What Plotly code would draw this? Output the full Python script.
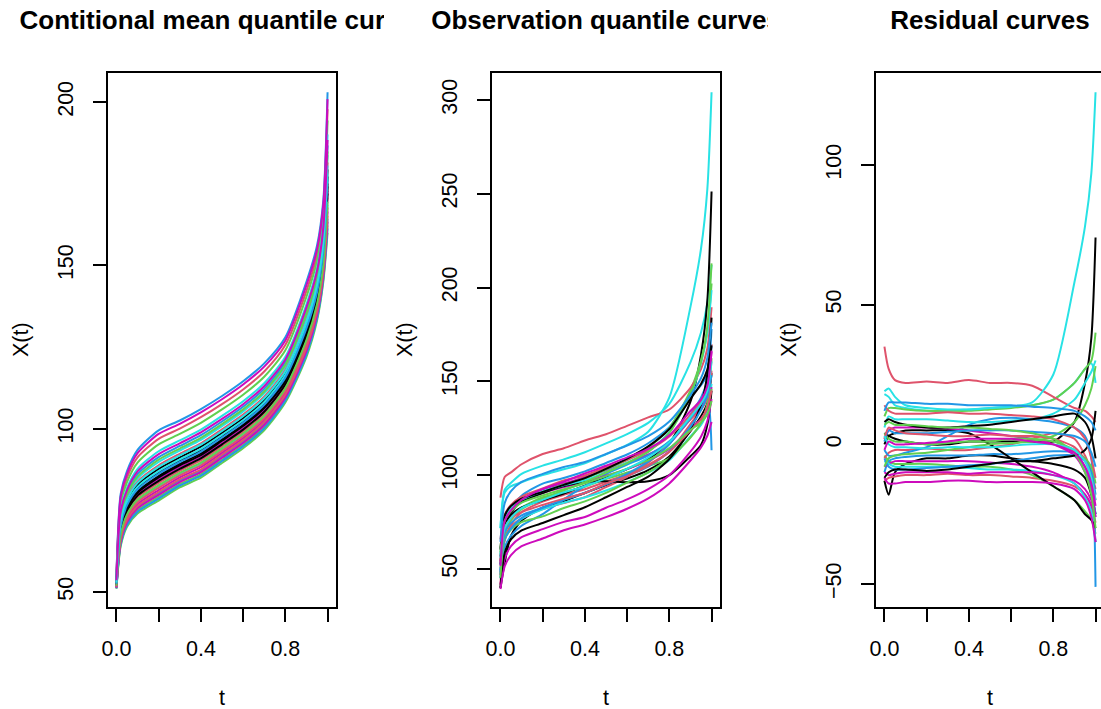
import plotly.graph_objects as go

# ---------------- data ----------------
t = [0, 0.02, 0.05, 0.1, 0.2, 0.3, 0.4, 0.5, 0.6, 0.7, 0.8, 0.9, 0.95, 0.98, 1.0]

# conditional mean quantile curves
m00 = [52.8, 71.2, 77.7, 82.8, 87.7, 91.2, 94.5, 98.7, 103.2, 108.7, 117.0, 132.4, 143.4, 156.3, 179.4]
m01 = [54.5, 78.1, 85.0, 91.2, 96.9, 100.0, 103.5, 107.5, 112.0, 117.5, 125.6, 142.2, 153.2, 167.0, 197.8]
m02 = [54.2, 76.8, 83.6, 89.6, 95.2, 98.4, 101.8, 105.9, 110.4, 115.9, 124.0, 140.4, 151.4, 165.0, 194.4]
m03 = [55.0, 80.0, 87.0, 93.5, 99.5, 102.5, 106.0, 110.0, 114.5, 120.0, 128.0, 145.0, 156.0, 170.0, 203.0]
m04 = [53.8, 75.2, 81.9, 87.7, 93.1, 96.4, 99.7, 103.9, 108.4, 113.9, 122.0, 138.1, 149.1, 162.5, 190.1]
m05 = [54.8, 79.2, 86.2, 92.5, 98.4, 101.5, 105.0, 109.0, 113.5, 119.0, 127.0, 143.9, 154.9, 168.8, 200.9]
m06 = [52.6, 70.4, 76.8, 81.8, 86.6, 90.2, 93.4, 97.7, 102.2, 107.7, 116.0, 131.2, 142.2, 155.0, 177.2]
m07 = [52.0, 68.0, 74.3, 78.9, 83.4, 87.1, 90.3, 94.6, 99.1, 104.6, 113.0, 127.8, 138.8, 151.3, 170.8]
m08 = [51.2, 64.8, 70.9, 75.0, 79.1, 83.0, 86.1, 90.5, 95.0, 100.5, 109.0, 123.2, 134.2, 146.3, 162.2]
m09 = [51.4, 65.6, 71.7, 76.0, 80.2, 84.1, 87.1, 91.6, 96.1, 101.6, 110.0, 124.3, 135.3, 147.5, 164.3]
m10 = [53.2, 72.8, 79.4, 84.7, 89.8, 93.3, 96.6, 100.8, 105.3, 110.8, 119.0, 134.7, 145.7, 158.8, 183.7]
m11 = [52.2, 68.8, 75.1, 79.9, 84.5, 88.2, 91.3, 95.7, 100.2, 105.7, 114.0, 128.9, 139.9, 152.5, 172.9]
m12 = [52.4, 69.6, 76.0, 80.8, 85.5, 89.2, 92.4, 96.7, 101.2, 106.7, 115.0, 130.1, 141.1, 153.8, 175.1]
m13 = [53.0, 72.0, 78.5, 83.8, 88.8, 92.3, 95.5, 99.8, 104.3, 109.8, 118.0, 133.5, 144.5, 157.5, 181.5]
m14 = [51.0, 64.0, 70.0, 74.0, 78.0, 82.0, 85.0, 89.5, 94.0, 99.5, 108.0, 122.0, 133.0, 145.0, 160.0]
m15 = [53.5, 73.9, 80.5, 86.1, 91.3, 94.7, 98.0, 102.2, 106.7, 112.2, 120.4, 136.3, 147.3, 160.5, 186.7]
m16 = [51.8, 67.2, 73.4, 77.9, 82.3, 86.1, 89.2, 93.6, 98.1, 103.6, 112.0, 126.6, 137.6, 150.0, 168.6]
m17 = [51.6, 66.4, 72.6, 76.9, 81.2, 85.1, 88.2, 92.6, 97.1, 102.6, 111.0, 125.5, 136.5, 148.8, 166.5]
m18 = [52.1, 68.5, 74.8, 79.5, 84.0, 87.7, 90.9, 95.2, 99.7, 105.2, 113.6, 128.4, 139.4, 152.0, 172.0]
m19 = [51.7, 66.9, 73.1, 77.5, 81.9, 85.7, 88.8, 93.2, 97.7, 103.2, 111.6, 126.1, 137.1, 149.5, 167.7]
m20 = [53.3, 73.3, 79.9, 85.3, 90.5, 93.9, 97.2, 101.4, 105.9, 111.4, 119.6, 135.3, 146.3, 159.5, 184.9]
m21 = [51.1, 64.5, 70.5, 74.6, 78.6, 82.6, 85.6, 90.1, 94.6, 100.1, 108.6, 122.7, 133.7, 145.8, 161.3]
m22 = [52.7, 70.7, 77.1, 82.2, 87.0, 90.6, 93.8, 98.1, 102.6, 108.1, 116.4, 131.7, 142.7, 155.5, 178.1]
m23 = [51.3, 65.3, 71.4, 75.6, 79.7, 83.6, 86.7, 91.1, 95.6, 101.1, 109.6, 123.8, 134.8, 147.0, 163.4]
m24 = [52.3, 69.3, 75.6, 80.4, 85.1, 88.8, 91.9, 96.3, 100.8, 106.3, 114.6, 129.6, 140.6, 153.3, 174.2]
m25 = [51.5, 65.9, 72.0, 76.3, 80.6, 84.5, 87.5, 92.0, 96.5, 102.0, 110.4, 124.8, 135.8, 148.0, 165.2]
m26 = [51.9, 67.5, 73.7, 78.3, 82.7, 86.5, 89.6, 94.0, 98.5, 104.0, 112.4, 127.1, 138.1, 150.5, 169.5]
m27 = [52.5, 70.1, 76.5, 81.4, 86.2, 89.8, 93.0, 97.3, 101.8, 107.3, 115.6, 130.7, 141.7, 154.5, 176.3]
m28 = [52.9, 71.7, 78.2, 83.4, 88.3, 91.8, 95.1, 99.3, 103.8, 109.3, 117.6, 133.0, 144.0, 157.0, 180.6]
m29 = [53.6, 74.6, 81.2, 86.9, 92.2, 95.5, 98.9, 103.0, 107.5, 113.0, 121.2, 137.2, 148.2, 161.5, 188.4]

# residual curves
r00 = [-13, -18, -10, -7, -5, -5, -4, -4, -5, -6, -7, -9, -12, -18, -25]
r01 = [-13, -12, -11.5, -11, -11, -10.5, -11, -11, -11.5, -12, -13, -15, -18, -22, -28]
r02 = [-4, -6, -7, -7, -7, -7.5, -8, -8, -9, -11, -15, -20, -24, -27, -32]
r03 = [-10, -6, -5, -4.5, -4, -4, -4, -3.5, -3.5, -3, -2.5, -3, -8, -16, -25]
r04 = [18, 17, 14, 13, 12, 12, 12.5, 13, 13.5, 14, 16, 22, 27, 29, 22]
r05 = [-8, -7, -6, -6, -6, -6, -6, -6.5, -7, -8, -10, -14, -18, -22, -35]
r06 = [4, 3, 2, 1, 0, 0, 1, 1, 1, 1, 1, 8, 22, 38, 74]
r07 = [-5, -3, -2, -2, -1.5, -2, -2, -1, 0, 2, 4, 2, -4, -10, -16]
r08 = [10, 13, 13, 12.5, 12, 12, 12, 12.5, 13, 14, 16, 22, 27, 30, 40]
r09 = [-2, -4, -4, -3, -1, 3, 7, 9, 9.5, 9, 8, 6, 3, -5, -51]
r10 = [-6, -7, -8, -8, -8, -8, -8.5, -9, -9, -9.5, -11, -14, -19, -24, -35]
r11 = [2, 5, 6, 6, 6, 5.5, 5, 4, 3, 2, 0, -4, -10, -17, -26]
r12 = [0, 3, 4, 5, 5, 5, 4, 0, -5, -10, -15, -20, -25, -27, -30]
r13 = [35, 27, 23, 22, 22.5, 22, 23, 22, 22, 21, 17, 13, 12, 10, 8]
r14 = [4, 2, 1, 1, 0, 0.5, 1, 1, 2, 2, 1, -2, -5, -8, -14]
r15 = [-5, -8, -9, -9, -8.5, -8, -7.5, -7, -6, -5, -4, -4, -6, -10, -18]
r16 = [6, 10, 9, 9, 9, 8.5, 8, 8, 8.5, 9, 11, 16, 22, 26, 30]
r17 = [-10, -11, -10.5, -10, -10, -10, -10.5, -10, -10, -10, -11, -13, -16, -20, -26]
r18 = [-12, -10, -9, -9, -9.5, -9, -8, -7, -6, -6, -5, -4, -2, 2, 12]
r19 = [14, 12, 11, 11, 11, 11.5, 11, 11, 10.5, 10, 9, 6, 2, -5, -12]
r20 = [-8, -5, -4, -3.5, -3, -2, -1, 0, 0.5, 1, 3, 8, 14, 20, 28]
r21 = [1, 5, 4, 4, 4, 4.5, 5, 5, 5, 4.5, 4, 3, 1, -3, -8]
r22 = [19, 20, 17, 14, 13, 12.5, 12.5, 13, 13.5, 15, 25, 58, 78, 97, 126]
r23 = [-12, -14, -14, -13.5, -13.5, -13, -13, -13.5, -13.5, -13.5, -14, -16, -20, -26, -35]
r24 = [8, 9, 8, 7, 6, 6, 6.5, 7, 8, 9, 10, 11, 8, 3, -5]
r25 = [2, 6, 5, 4, 3.5, 3, 3, 3.5, 3, 3, 2, -1, -6, -12, -20]
r26 = [7, 8, 7, 7, 6.5, 6, 6, 5.5, 5, 4, 2, -3, -10, -18, -30]
r27 = [12, 15, 15, 15, 14.5, 14.5, 14, 14, 14, 13.5, 13, 12, 10, 8, 5]
r28 = [3, 0, -1, -1, -1.5, -1, -1, -1, -0.5, 0, 0, -2, -6, -12, -20]
r29 = [-2, 1, 0, 0, 0.5, 1, 2, 2, 2, 1, 0, -3, -8, -14, -22]

mean_curves = [m00, m01, m02, m03, m04, m05, m06, m07, m08, m09, m10, m11, m12, m13, m14,
               m15, m16, m17, m18, m19, m20, m21, m22, m23, m24, m25, m26, m27, m28, m29]
resid_curves = [r00, r01, r02, r03, r04, r05, r06, r07, r08, r09, r10, r11, r12, r13, r14,
                r15, r16, r17, r18, r19, r20, r21, r22, r23, r24, r25, r26, r27, r28, r29]
# observation = conditional mean + residual
obs_curves = [[a + b for a, b in zip(mc, rc)] for mc, rc in zip(mean_curves, resid_curves)]

palette = ["#000000", "#DF536B", "#61D04F", "#2297E6", "#28E2E5", "#CD0BBC"]

titles = ["Contitional mean quantile curves", "Observation quantile curves", "Residual curves"]
x_tickvals = [0, 0.2, 0.4, 0.6, 0.8, 1.0]
x_ticktext = ["0.0", "", "0.4", "", "0.8", ""]
y_tickvals = [[50, 100, 150, 200], [50, 100, 150, 200, 250, 300], [-50, 0, 50, 100]]
y_ranges = [[45.4, 208.9], [29.7, 314.4], [-58.2, 132.9]]

# ---------------- figure ----------------
W, H = 1101, 709
FONT = "Liberation Sans, Arial, Helvetica, sans-serif"
FS = 21.5
fig = go.Figure()

panels = [mean_curves, obs_curves, resid_curves]
for p, curves in enumerate(panels):
    xa = "x" if p == 0 else f"x{p+1}"
    ya = "y" if p == 0 else f"y{p+1}"
    for i, c in enumerate(curves):
        fig.add_trace(go.Scatter(x=t, y=c, mode="lines", xaxis=xa, yaxis=ya,
                                 line=dict(color=palette[i % 6], width=2, shape="spline", smoothing=0.7),
                                 showlegend=False, hoverinfo="skip"))

box_left = [108, 492, 876]
box_right = [336, 720, 1101]
ytop, ybot = 73, 607
xr = [[-0.04, 1.04], [-0.04, 1.04], [-0.04, 1.0258]]

layout = dict(width=W, height=H, margin=dict(l=0, r=0, t=0, b=0, autoexpand=False),
              paper_bgcolor="white", plot_bgcolor="white", showlegend=False,
              font=dict(family=FONT, size=FS, color="black"))

for p in range(3):
    sx = "" if p == 0 else str(p + 1)
    layout["xaxis" + sx] = dict(domain=[box_left[p] / W, box_right[p] / W], range=xr[p],
                                anchor="y" + sx, tickvals=x_tickvals, ticktext=x_ticktext,
                                ticks="outside", ticklen=13, tickwidth=1.5, tickcolor="black",
                                showline=True, linewidth=1.5, linecolor="black", mirror=True,
                                showgrid=False, zeroline=False, ticklabelstandoff=8,
                                automargin=False,
                                tickfont=dict(family=FONT, size=FS, color="black"))
    layout["yaxis" + sx] = dict(domain=[(H - ybot) / H, (H - ytop) / H], range=y_ranges[p],
                                anchor="x" + sx, tickvals=y_tickvals[p], tickangle=-90,
                                ticks="outside", ticklen=13, tickwidth=1.5, tickcolor="black",
                                showline=True, linewidth=1.5, linecolor="black",
                                mirror=(p < 2), showgrid=False, zeroline=False,
                                ticklabelstandoff=12, automargin=False,
                                tickfont=dict(family=FONT, size=FS, color="black"))

# title areas (clipped like the panel regions)
region = [(0, 384), (384, 768), (768, 1101)]
centers = [224, 606, 990]
for p in range(3):
    k = p + 4
    layout[f"xaxis{k}"] = dict(domain=[region[p][0] / W, region[p][1] / W], range=[0, 1],
                               visible=False, anchor=f"y{k}", fixedrange=True, automargin=False)
    layout[f"yaxis{k}"] = dict(domain=[(H - 60) / H, 1.0], range=[0, 1],
                               visible=False, anchor=f"x{k}", fixedrange=True, automargin=False)
    fx = (centers[p] - region[p][0]) / (region[p][1] - region[p][0])
    fig.add_trace(go.Scatter(x=[fx], y=[1 - 22 / 60], mode="text", text=[titles[p]],
                             textposition="middle center", cliponaxis=True,
                             textfont=dict(family=FONT, size=26, color="black", weight="bold"),
                             xaxis=f"x{k}", yaxis=f"y{k}", showlegend=False, hoverinfo="skip"))

annotations = []
for p in range(3):
    annotations.append(dict(text="t", x=(box_left[p] + 114) / W, y=(H - 698) / H, xref="paper", yref="paper",
                            showarrow=False, xanchor="center", yanchor="middle",
                            font=dict(family=FONT, size=FS, color="black")))
    annotations.append(dict(text="X(t)", x=(box_left[p] - 87) / W, y=(H - 340) / H,
                            xref="paper", yref="paper", showarrow=False, textangle=-90,
                            xanchor="center", yanchor="middle",
                            font=dict(family=FONT, size=FS, color="black")))
layout["annotations"] = annotations

fig.update_layout(**layout)
fig.write_html("out.html")
